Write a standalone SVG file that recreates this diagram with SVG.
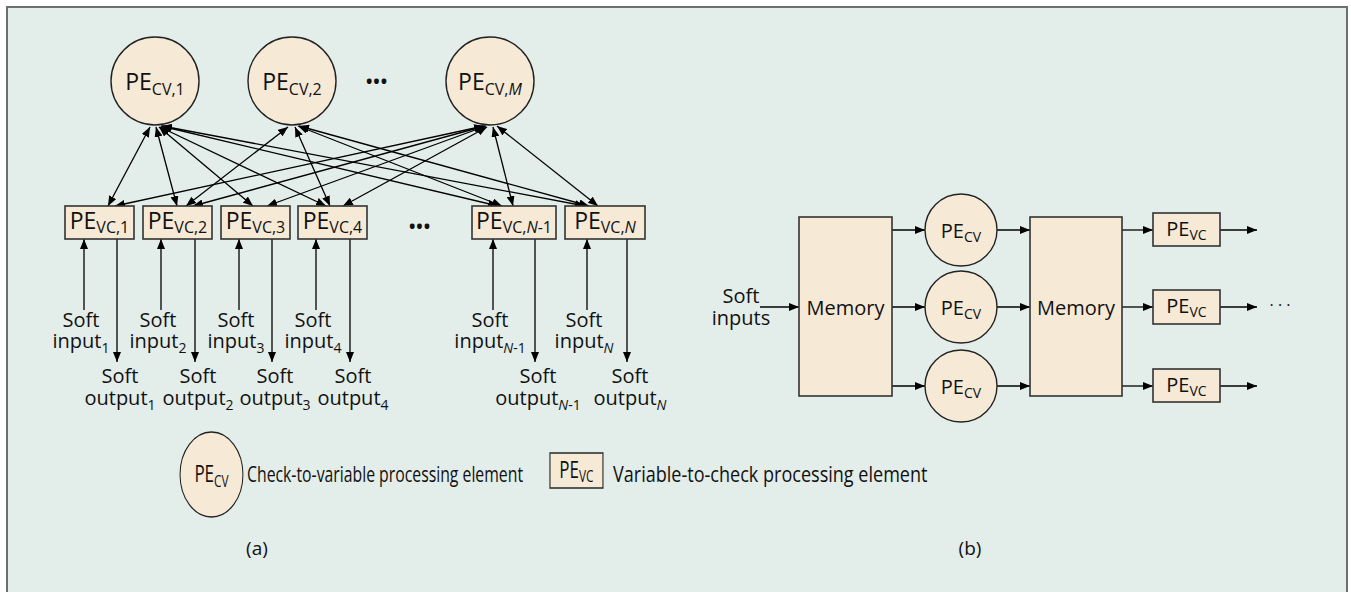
<svg xmlns="http://www.w3.org/2000/svg" width="1351" height="592" viewBox="0 0 1351 592">
<style>
text{font-family:"Open Sans","Liberation Sans",sans-serif;fill:#111}
.cv{fill:#f6e9d6;stroke:#222;stroke-width:1.4}
.vc{fill:#f6e9d6;stroke:#333;stroke-width:1.6}
.c{stroke:#000;stroke-width:1.3;fill:none}
.lbl{font-size:20px;text-anchor:middle}
.pe{font-size:23px;text-anchor:middle}
.pe2{font-size:20px;text-anchor:middle}
.sub{font-size:16px}
.sub2{font-size:14px}
.ssub{font-size:14px}
.dots{font-size:17px;font-weight:bold;text-anchor:middle;letter-spacing:1px}
</style>
<defs>
<marker id="ah" viewBox="0 0 10 8" refX="10" refY="4" markerWidth="10" markerHeight="8" markerUnits="userSpaceOnUse" orient="auto-start-reverse">
<path d="M0,0 L10,4 L0,8 z" fill="#000"/>
</marker>
</defs>
<rect x="0" y="0" width="1351" height="592" fill="#ffffff"/>
<rect x="7" y="7" width="1340" height="600" fill="#e3ede9" stroke="#6e6e6e" stroke-width="2"/>

<g id="connectors">
<g marker-start="url(#ah)" marker-end="url(#ah)" class="c">
<line x1="150" y1="127" x2="108" y2="206"/>
<line x1="156" y1="127" x2="177" y2="206"/>
<line x1="159" y1="127" x2="253" y2="206"/>
<line x1="160" y1="127" x2="326" y2="206"/>
<line x1="161" y1="126" x2="498" y2="206"/>
<line x1="162" y1="126" x2="585" y2="206"/>
<line x1="288" y1="127" x2="186" y2="206"/>
<line x1="295" y1="127" x2="330" y2="206"/>
<line x1="298" y1="126" x2="502" y2="206"/>
<line x1="299" y1="126" x2="589" y2="206"/>
<line x1="484" y1="126" x2="115" y2="206"/>
<line x1="485" y1="126" x2="193" y2="206"/>
<line x1="486" y1="126" x2="267" y2="206"/>
<line x1="487" y1="127" x2="343" y2="206"/>
<line x1="493" y1="127" x2="513" y2="206"/>
<line x1="497" y1="126" x2="598" y2="206"/>
</g>
<g marker-end="url(#ah)" class="c">
<line x1="84" y1="310" x2="84" y2="239"/>
<line x1="161" y1="310" x2="161" y2="239"/>
<line x1="239" y1="310" x2="239" y2="239"/>
<line x1="316" y1="310" x2="316" y2="239"/>
<line x1="493" y1="310" x2="493" y2="239"/>
<line x1="587" y1="310" x2="587" y2="239"/>
<line x1="117" y1="239" x2="117" y2="362"/>
<line x1="195" y1="239" x2="195" y2="362"/>
<line x1="272" y1="239" x2="272" y2="362"/>
<line x1="350" y1="239" x2="350" y2="362"/>
<line x1="535" y1="239" x2="535" y2="362"/>
<line x1="627" y1="239" x2="627" y2="362"/>
<line x1="760" y1="307" x2="799" y2="307"/>
<line x1="892" y1="230" x2="925" y2="230"/>
<line x1="892" y1="307" x2="925" y2="307"/>
<line x1="892" y1="386" x2="925" y2="386"/>
<line x1="997" y1="230" x2="1030" y2="230"/>
<line x1="997" y1="307" x2="1030" y2="307"/>
<line x1="997" y1="386" x2="1030" y2="386"/>
<line x1="1122" y1="230" x2="1153" y2="230"/>
<line x1="1122" y1="307" x2="1153" y2="307"/>
<line x1="1122" y1="386" x2="1153" y2="386"/>
<line x1="1220" y1="230" x2="1257" y2="230"/>
<line x1="1220" y1="307" x2="1257" y2="307"/>
<line x1="1220" y1="386" x2="1257" y2="386"/>
</g>
</g>

<g id="cv1"><circle class="cv" cx="155" cy="81" r="44"/><text class="pe" x="155" y="90">PE<tspan class="sub" dy="5">CV,1</tspan></text></g>
<g id="cv2"><circle class="cv" cx="292" cy="81" r="44"/><text class="pe" x="292" y="90">PE<tspan class="sub" dy="5">CV,2</tspan></text></g>
<g id="cvM"><circle class="cv" cx="490" cy="81" r="44"/><text class="pe" x="490" y="90">PE<tspan class="sub" dy="5">CV,<tspan font-style="italic">M</tspan></tspan></text></g>
<text class="dots" x="377" y="88">•••</text>

<g id="vc1"><rect class="vc" x="65" y="206" width="69" height="33"/><text class="pe" x="99.5" y="229">PE<tspan class="sub" dy="4">VC,1</tspan></text></g>
<g id="vc2"><rect class="vc" x="143" y="206" width="69" height="33"/><text class="pe" x="177.5" y="229">PE<tspan class="sub" dy="4">VC,2</tspan></text></g>
<g id="vc3"><rect class="vc" x="221" y="206" width="69" height="33"/><text class="pe" x="255.5" y="229">PE<tspan class="sub" dy="4">VC,3</tspan></text></g>
<g id="vc4"><rect class="vc" x="298" y="206" width="69" height="33"/><text class="pe" x="332.5" y="229">PE<tspan class="sub" dy="4">VC,4</tspan></text></g>
<g id="vcN1"><rect class="vc" x="472" y="206" width="84" height="33"/><text class="pe" x="514" y="229">PE<tspan class="sub" dy="4">VC,<tspan font-style="italic">N</tspan>-1</tspan></text></g>
<g id="vcN"><rect class="vc" x="565" y="206" width="80" height="33"/><text class="pe" x="605" y="229">PE<tspan class="sub" dy="4">VC,<tspan font-style="italic">N</tspan></tspan></text></g>
<text class="dots" x="420" y="233">•••</text>

<g id="in1"><text class="lbl" x="81" y="327">Soft<tspan x="81" dy="21">input</tspan><tspan class="ssub" dy="5">1</tspan></text></g>
<g id="in2"><text class="lbl" x="158" y="327">Soft<tspan x="158" dy="21">input</tspan><tspan class="ssub" dy="5">2</tspan></text></g>
<g id="in3"><text class="lbl" x="236" y="327">Soft<tspan x="236" dy="21">input</tspan><tspan class="ssub" dy="5">3</tspan></text></g>
<g id="in4"><text class="lbl" x="313" y="327">Soft<tspan x="313" dy="21">input</tspan><tspan class="ssub" dy="5">4</tspan></text></g>
<g id="inN1"><text class="lbl" x="490" y="327">Soft<tspan x="490" dy="21">input</tspan><tspan class="ssub" dy="5"><tspan font-style="italic">N</tspan>-1</tspan></text></g>
<g id="inN"><text class="lbl" x="584" y="327">Soft<tspan x="584" dy="21">input</tspan><tspan class="ssub" dy="5" font-style="italic">N</tspan></text></g>
<g id="out1"><text class="lbl" x="120" y="383">Soft<tspan x="120" dy="22">output</tspan><tspan class="ssub" dy="5">1</tspan></text></g>
<g id="out2"><text class="lbl" x="198" y="383">Soft<tspan x="198" dy="22">output</tspan><tspan class="ssub" dy="5">2</tspan></text></g>
<g id="out3"><text class="lbl" x="275" y="383">Soft<tspan x="275" dy="22">output</tspan><tspan class="ssub" dy="5">3</tspan></text></g>
<g id="out4"><text class="lbl" x="353" y="383">Soft<tspan x="353" dy="22">output</tspan><tspan class="ssub" dy="5">4</tspan></text></g>
<g id="outN1"><text class="lbl" x="538" y="383">Soft<tspan x="538" dy="22">output</tspan><tspan class="ssub" dy="5"><tspan font-style="italic">N</tspan>-1</tspan></text></g>
<g id="outN"><text class="lbl" x="630" y="383">Soft<tspan x="630" dy="22">output</tspan><tspan class="ssub" dy="5" font-style="italic">N</tspan></text></g>

<g id="legend" transform="matrix(0.74 0 0 1 0 0)">
<g id="leg-cv"><circle class="cv" cx="285.8" cy="474.5" r="42.5"/><text class="pe" x="285.8" y="482">PE<tspan class="sub" dy="5">CV</tspan></text></g>
<text x="333.8" y="482" font-size="22" textLength="373" lengthAdjust="spacingAndGlyphs">Check-to-variable processing element</text>
<g id="leg-vc"><rect class="vc" x="743.2" y="453" width="71.6" height="35"/><text class="pe" x="779" y="478">PE<tspan class="sub" dy="4">VC</tspan></text></g>
<text x="828.4" y="482" font-size="22" textLength="425" lengthAdjust="spacingAndGlyphs">Variable-to-check processing element</text>
</g>
<text x="257" y="555" font-size="19" text-anchor="middle">(a)</text>
<text x="970" y="555" font-size="19" text-anchor="middle">(b)</text>

<g id="softinputs"><text class="lbl" x="741" y="303">Soft<tspan x="741" dy="22">inputs</tspan></text></g>
<g id="mem1"><rect class="vc" x="799" y="217" width="93" height="179"/><text class="lbl" x="845.5" y="315">Memory</text></g>
<g id="bcv1"><circle class="cv" cx="961" cy="230" r="36"/><text class="pe2" x="961" y="238">PE<tspan class="sub2" dy="4">CV</tspan></text></g>
<g id="bcv2"><circle class="cv" cx="961" cy="307" r="36"/><text class="pe2" x="961" y="315">PE<tspan class="sub2" dy="4">CV</tspan></text></g>
<g id="bcv3"><circle class="cv" cx="961" cy="386" r="36"/><text class="pe2" x="961" y="394">PE<tspan class="sub2" dy="4">CV</tspan></text></g>
<g id="mem2"><rect class="vc" x="1030" y="217" width="92" height="179"/><text class="lbl" x="1076" y="315">Memory</text></g>
<g id="bvc1"><rect class="vc" x="1153" y="213" width="67" height="33"/><text class="pe2" x="1186.5" y="236">PE<tspan class="sub2" dy="4">VC</tspan></text></g>
<g id="bvc2"><rect class="vc" x="1153" y="290" width="67" height="34"/><text class="pe2" x="1186.5" y="313">PE<tspan class="sub2" dy="4">VC</tspan></text></g>
<g id="bvc3"><rect class="vc" x="1153" y="369" width="67" height="33"/><text class="pe2" x="1186.5" y="392">PE<tspan class="sub2" dy="4">VC</tspan></text></g>
<text x="1280" y="311" font-size="16" text-anchor="middle">· · ·</text>
</svg>
